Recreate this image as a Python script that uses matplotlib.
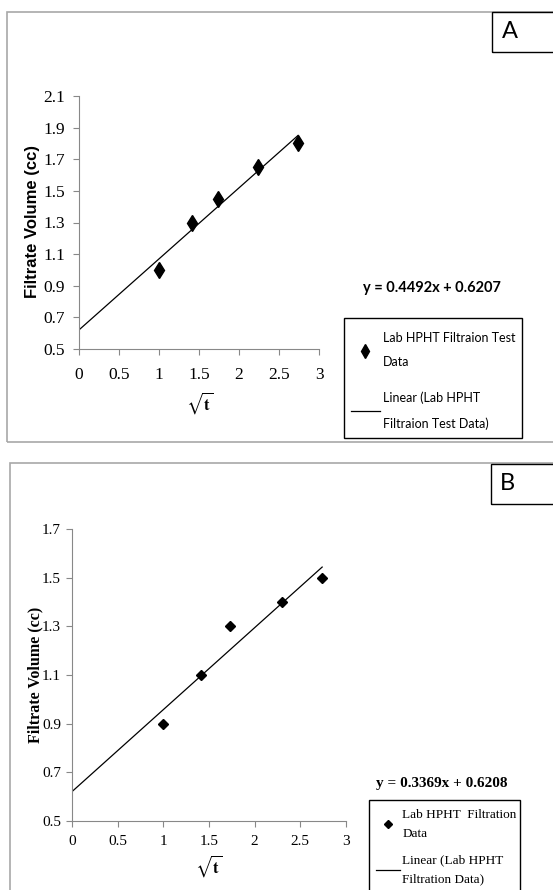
import numpy as np
import matplotlib.pyplot as plt
from matplotlib.patches import Rectangle
from matplotlib.lines import Line2D

# --- data ---
sqrt_t_a = [1.0, 1.414, 1.732, 2.236, 2.739]
vol_a = [1.0, 1.3, 1.45, 1.65, 1.8]
slope_a, icpt_a = 0.4492, 0.6207

sqrt_t_b = [1.0, 1.414, 1.732, 2.3, 2.739]
vol_b = [0.9, 1.1, 1.3, 1.4, 1.5]
slope_b, icpt_b = 0.3369, 0.6208

xticks = [0, 0.5, 1, 1.5, 2, 2.5, 3]
xtick_labels = ["0", "0.5", "1", "1.5", "2", "2.5", "3"]
yticks_a = [0.5, 0.7, 0.9, 1.1, 1.3, 1.5, 1.7, 1.9, 2.1]
yticks_b = [0.5, 0.7, 0.9, 1.1, 1.3, 1.5, 1.7]

W, H = 553, 890
plt.rcParams['mathtext.fontset'] = 'stix'
fig = plt.figure(figsize=(W / 100, H / 100), dpi=100)

CALI = ['Lato', 'DejaVu Sans']          # stand-in for Calibri
SERIF = ['Liberation Serif', 'DejaVu Serif']


def fx(x):
    return x / W


def fy(y):
    return 1 - y / H


def box(x0, y0, x1, y1, color, lw):
    fig.patches.append(Rectangle((fx(x0), fy(y1)), fx(x1 - x0), (y1 - y0) / H,
                                 transform=fig.transFigure, fill=False,
                                 edgecolor=color, linewidth=lw))


def panel(rect, xs, ys, slope, icpt, yticks, tick_size, marker, ms,
          xpad, ypad):
    l, t, r, b = rect
    ax = fig.add_axes([fx(l), fy(b), fx(r - l), (b - t) / H])
    xfit = np.array([0, max(xs)])
    ax.plot(xfit, slope * xfit + icpt, color='black', lw=0.9)
    ax.plot(xs, ys, linestyle='none', marker=marker, markersize=ms,
            color='black')
    ax.set_xlim(0, 3)
    ax.set_ylim(yticks[0], yticks[-1])
    ax.set_xticks(xticks)
    ax.set_xticklabels(xtick_labels, family=SERIF, fontsize=tick_size)
    ax.set_yticks(yticks)
    ax.set_yticklabels([f"{v:.1f}" for v in yticks], family=SERIF,
                       fontsize=tick_size)
    for s in ['top', 'right']:
        ax.spines[s].set_visible(False)
    for s in ['left', 'bottom']:
        ax.spines[s].set_color('#888888')
        ax.spines[s].set_linewidth(0.8)
    ax.tick_params(direction='out', length=4, color='#888888')
    ax.tick_params(axis='x', pad=xpad)
    ax.tick_params(axis='y', pad=ypad)
    ax.patch.set_alpha(0)
    return ax


def legend(handles, labels, x, y, font, size, spacing, linesp,
           hlen, hpad):
    # frame is drawn separately with box()
    leg = fig.legend(handles, labels, loc='upper left',
                     bbox_to_anchor=(fx(x), fy(y)), frameon=False,
                     borderaxespad=0, borderpad=0,
                     handlelength=hlen, handletextpad=hpad,
                     labelspacing=spacing,
                     prop={'family': font, 'size': size})
    for t in leg.get_texts():
        t.set_linespacing(linesp)
    return leg


# ---------------- Panel A ----------------
box(7, 12, 600, 442, '#a8a8a8', 1.2)
box(492, 12, 600, 52, 'black', 1.0)
fig.text(fx(510), fy(32), "A", ha='center', va='center', fontsize=17,
         family=CALI)

ax_a = panel((79, 96, 319, 349), sqrt_t_a, vol_a, slope_a, icpt_a,
             yticks_a, 12.5, 'd', 8.5, 9, 6)
fig.text(fx(33), fy(222), "Filtrate Volume (cc)", rotation=90, ha='center',
         va='center', fontsize=12, fontweight='bold',
         family=['Liberation Sans', 'DejaVu Sans'])
fig.text(fx(200), fy(403), r'$\sqrt{\mathbf{t}}$', ha='center', va='center',
         fontsize=12)
fig.text(fx(432), fy(288), f"y = {slope_a}x + {icpt_a}", ha='center',
         va='center', fontsize=10.5, fontweight='bold', family=CALI)

h_a = [Line2D([], [], linestyle='none', marker='d', markersize=7,
              color='black'),
       Line2D([], [], color='black', lw=0.9)]
box(344, 318, 522, 438, 'black', 1.0)
legend(h_a, ["Lab HPHT Filtraion Test\nData",
             "Linear (Lab HPHT\nFiltraion Test Data)"],
       351, 332, CALI, 9.0, 1.9, 2.2, 2.3, 0.25)

# ---------------- Panel B ----------------
box(10, 463, 600, 950, '#a8a8a8', 1.2)
box(491, 464, 600, 504, 'black', 1.0)
fig.text(fx(507), fy(484), "B", ha='center', va='center', fontsize=17,
         family=CALI)

ax_b = panel((72, 529, 346, 821), sqrt_t_b, vol_b, slope_b, icpt_b,
             yticks_b, 11, 'D', 5, 6, 4)
fig.text(fx(35), fy(675), "Filtrate Volume (cc)", rotation=90, ha='center',
         va='center', fontsize=11.5, fontweight='bold', family=SERIF)
fig.text(fx(209), fy(866), r'$\sqrt{\mathbf{t}}$', ha='center', va='center',
         fontsize=12)
fig.text(fx(442), fy(784), f"y = {slope_b}x + {icpt_b}", ha='center',
         va='center', fontsize=11, fontweight='bold', family=SERIF)

h_b = [Line2D([], [], linestyle='none', marker='D', markersize=4.5,
              color='black'),
       Line2D([], [], color='black', lw=0.9)]
box(369, 800, 520, 900, 'black', 1.0)
legend(h_b, ["Lab HPHT  Filtration\nData",
             "Linear (Lab HPHT\nFiltration Data)"],
       376, 809, SERIF, 9.5, 1.1, 1.75, 1.8, 0.2)

fig.savefig("out.png", dpi=100)
